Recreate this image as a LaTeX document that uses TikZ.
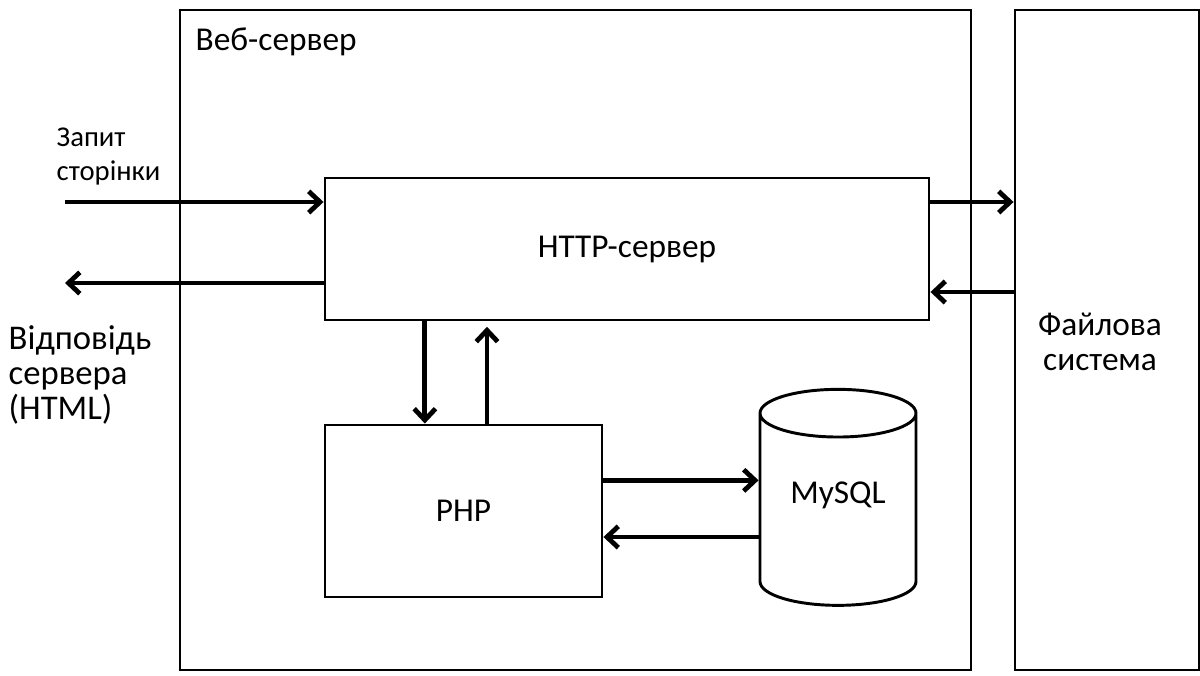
\documentclass[tikz,border=0pt]{standalone}
\usepackage{fontspec}
\setmainfont{Carlito}
\usetikzlibrary{positioning, arrows.meta, shapes.geometric}

\begin{document}
\begin{tikzpicture}[x=0.75pt, y=-0.75pt,
    blk/.style={draw, line width=2.2pt, inner sep=0pt},
    arr/.style={line width=3.6pt, -{Straight Barb[length=8.5pt, width=16pt]}},
    txt/.style={font=\fontsize{25}{26.25}\selectfont}]

    \useasboundingbox (0,0) rectangle (1200,675);

    % outer boxes
    \node[blk, minimum width=593.25pt, minimum height=495pt] (web) at (575.5,340) {};
    \node[blk, minimum width=138pt, minimum height=495pt] (fs) at (1107,340) {};
    \node[txt, anchor=base west] (webl) at (191,50) {Веб-сервер};
    \node[txt, align=center] (fsl) at (1100,342) {Файлова\\система};

    % inner blocks
    \node[blk, txt, minimum width=453pt, minimum height=106.5pt] (http) at (627,249) {HTTP-сервер};
    \node[blk, txt, minimum width=207.75pt, minimum height=129pt] (php) at (463.5,511) {PHP};
    \node[blk, txt, cylinder, shape border rotate=90, aspect=0.5, minimum width=117pt, minimum height=162pt] (db) at (838,510) {\phantom{MySQL}};
    \node[txt] (dbl) at ([yshift=11pt]db.center) {MySQL};

    % request / response
    \coordinate (req) at (65,202);
    \coordinate (resp) at (65,283);
    \node[font=\fontsize{21.5}{26}\selectfont, align=left, anchor=south west] (reql) at (52,190) {Запит\\сторінки};
    \node[font=\fontsize{26}{26.25}\selectfont, align=left, anchor=north west] (respl) at (4,321) {Відповідь\\сервера\\(HTML)};

    \draw[arr] (req) -- (req -| http.west);
    \draw[arr] (resp -| http.west) -- (resp);

    % file system
    \draw[arr] (req -| http.east) -- (req -| fs.west);
    \draw[arr] ([yshift=36pt]fs.west) -- ([yshift=36pt]fs.west -| http.east);

    % http <-> php
    \draw[arr] ([xshift=-29pt]php.north |- http.south) -- ([xshift=-29pt]php.north);
    \draw[arr] ([xshift=17.6pt]php.north) -- ([xshift=17.6pt,yshift=-4pt]php.north |- http.south);

    % php <-> mysql
    \draw[arr] ([yshift=23pt]php.east) -- ([yshift=23pt]php.east -| db.west);
    \draw[arr] ([yshift=-19.5pt]php.east -| db.west) -- ([yshift=-19.5pt]php.east);

\end{tikzpicture}
\end{document}
